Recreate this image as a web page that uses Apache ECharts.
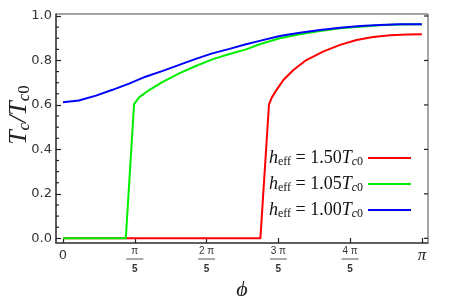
<!DOCTYPE html>
<html><head><meta charset="utf-8">
<script src="https://cdn.jsdelivr.net/npm/echarts@6/dist/echarts.min.js"></script>
<style>html,body{margin:0;padding:0;background:#fff}#c{width:463px;height:296px}</style>
</head><body><div id="c"></div>
<script>
// phi in units of pi
const xTicks = [0, 0.2, 0.4, 0.6, 0.8, 1.0];
const yTicks = [0, 0.2, 0.4, 0.6, 0.8, 1.0];
const yMinorTicks = [0.05,0.1,0.15,0.25,0.3,0.35,0.45,0.5,0.55,0.65,0.7,0.75,0.85,0.9,0.95];
const seriesNames = ['1.50', '1.05', '1.00'];
const seriesColors = ['#ff0000', '#00ee00', '#0000ff'];

const redPhi = [0, 0.55, 0.574, 0.582, 0.596, 0.614, 0.642, 0.678, 0.726, 0.772, 0.818, 0.864, 0.912, 0.958, 1.0];
const redVal = [0, 0, 0.603, 0.634, 0.670, 0.712, 0.757, 0.802, 0.841, 0.870, 0.892, 0.906, 0.913, 0.917, 0.918];

const greenPhi = [0, 0.175, 0.198, 0.212, 0.24, 0.278, 0.324, 0.37, 0.416, 0.464, 0.51, 0.548, 0.604, 0.66, 0.716, 0.772, 0.828, 0.882, 0.938, 1.0];
const greenVal = [0, 0, 0.604, 0.634, 0.667, 0.704, 0.742, 0.775, 0.805, 0.829, 0.850, 0.873, 0.900, 0.918, 0.933, 0.945, 0.952, 0.958, 0.962, 0.963];

const bluePhi = [0, 0.044, 0.092, 0.138, 0.184, 0.23, 0.278, 0.324, 0.37, 0.416, 0.464, 0.51, 0.548, 0.604, 0.66, 0.716, 0.772, 0.828, 0.882, 0.938, 1.0];
const blueVal = [0.612, 0.620, 0.642, 0.668, 0.696, 0.727, 0.753, 0.780, 0.807, 0.832, 0.852, 0.873, 0.888, 0.910, 0.925, 0.937, 0.947, 0.955, 0.960, 0.963, 0.963];

const xLabelText = ['{zero|0}', '{num|π}\n{bar|}\n{den|5}', '{num|2 π}\n{bar|}\n{den|5}', '{num|3 π}\n{bar|}\n{den|5}', '{num|4 π}\n{bar|}\n{den|5}', '{pi|π}'];
const yTitle = '{T|T}{s|c}{sl|/}{T|T}{s|c}{s0|0}';

const pair = (xs, ys) => xs.map((x, i) => [x, ys[i]]);
const X_MIN = -0.0195, X_MAX = 1.017, Y_MIN = -0.021, Y_MAX = 1.009;
const frameColor = '#4a4a4a';
const tickColor = '#222';

// tick marks placed through the axis scale (frame decoration)
function tickSeries(values, atX, len) {
  return {
    type: 'custom', coordinateSystem: 'cartesian2d', silent: true, z: 10, clip: false,
    data: values.map(v => [atX, v]),
    renderItem: (params, api) => {
      const p = api.coord([api.value(0), api.value(1)]);
      return {type: 'line', shape: {x1: p[0], y1: p[1], x2: p[0] + len, y2: p[1]},
              style: {stroke: tickColor, lineWidth: 1.2}};
    }
  };
}

const chart = echarts.init(document.getElementById('c'), null, {renderer: 'canvas'});
chart.setOption({
  animation: false,
  backgroundColor: '#fff',
  grid: {left: 56, top: 14, right: 35, bottom: 53, show: true, borderColor: frameColor, borderWidth: 1, containLabel: false, outerBoundsMode: 'none'},
  graphic: [{
    type: 'text', x: 19, y: 115, rotation: Math.PI / 2, z: 10,
    style: {
      text: yTitle, align: 'center', verticalAlign: 'middle',
      rich: {
        T: {fontSize: 26, fontStyle: 'italic', fontFamily: 'Liberation Serif', fill: '#222', lineHeight: 28},
        sl: {fontSize: 26, fontStyle: 'italic', fontFamily: 'Liberation Serif', fill: '#222', lineHeight: 28},
        s: {fontSize: 17, fontStyle: 'italic', fontFamily: 'Liberation Serif', fill: '#222', lineHeight: 28, verticalAlign: 'bottom'},
        s0: {fontSize: 17, fontFamily: 'Liberation Serif', fill: '#222', lineHeight: 28, verticalAlign: 'bottom'}
      }
    }
  }],
  xAxis: {
    type: 'value', min: X_MIN, max: X_MAX,
    axisLine: {show: true, onZero: false, lineStyle: {color: frameColor, width: 1.6}},
    splitLine: {show: false},
    axisTick: {show: true, inside: true, length: 5, customValues: xTicks, lineStyle: {color: tickColor, width: 1.2}},
    axisLabel: {
      customValues: xTicks, margin: 2, color: '#333', fontFamily: 'Liberation Sans',
      formatter: v => xLabelText[Math.round(v * 5)],
      rich: {
        zero: {fontSize: 13, lineHeight: 22, fontFamily: 'DejaVu Sans', color: '#333'},
        num: {fontSize: 10, lineHeight: 12, fontFamily: 'Liberation Sans', color: '#333'},
        bar: {width: 17, height: 1, lineHeight: 4, backgroundColor: '#555'},
        den: {fontSize: 10, lineHeight: 16, fontWeight: 'bold', fontFamily: 'Liberation Sans', color: '#333'},
        pi: {fontSize: 17, lineHeight: 22, fontStyle: 'italic', fontFamily: 'Liberation Serif', color: '#222'}
      }
    },
    name: 'ϕ', nameLocation: 'middle', nameGap: 27,
    nameTextStyle: {fontSize: 22, fontStyle: 'italic', fontFamily: 'Liberation Serif', color: '#222'}
  },
  yAxis: {
    type: 'value', min: Y_MIN, max: Y_MAX,
    axisLine: {show: true, onZero: false, lineStyle: {color: frameColor, width: 1.6}},
    splitLine: {show: false},
    axisTick: {show: true, inside: true, length: 5, customValues: yTicks, lineStyle: {color: tickColor, width: 1.2}},
    axisLabel: {customValues: yTicks, margin: 4, fontSize: 13, fontFamily: 'DejaVu Sans', color: '#333', formatter: v => v.toFixed(1)}
  },
  legend: {
    orient: 'vertical', right: 47, top: 144, align: 'right',
    icon: 'rect', itemWidth: 43, itemHeight: 2, itemGap: 7,
    data: seriesNames.map(n => 'h' + n),
    formatter: name => '{h|h}{e|eff}{t| = ' + name.slice(1) + '}{h|T}{c|c}{z|0}',
    textStyle: {
      rich: {
        h: {fontSize: 18, fontStyle: 'italic', fontFamily: 'Liberation Serif', color: '#111', lineHeight: 20},
        e: {fontSize: 12, fontFamily: 'Liberation Serif', color: '#111', lineHeight: 20, verticalAlign: 'bottom'},
        t: {fontSize: 18, fontFamily: 'Liberation Serif', color: '#111', lineHeight: 20},
        c: {fontSize: 12, fontStyle: 'italic', fontFamily: 'Liberation Serif', color: '#111', lineHeight: 20, verticalAlign: 'bottom'},
        z: {fontSize: 12, fontFamily: 'Liberation Serif', color: '#111', lineHeight: 20, verticalAlign: 'bottom'}
      }
    }
  },
  series: seriesNames.map((n, i) => ({
    name: 'h' + n, type: 'line', symbol: 'none', color: seriesColors[i],
    lineStyle: {width: 2, color: seriesColors[i]},
    data: pair([redPhi, greenPhi, bluePhi][i], [redVal, greenVal, blueVal][i]),
    z: 2 + i
  })).concat([
    tickSeries(yMinorTicks, X_MIN, 3),
    tickSeries(yTicks, X_MAX, -4)
  ])
});
</script></body></html>
